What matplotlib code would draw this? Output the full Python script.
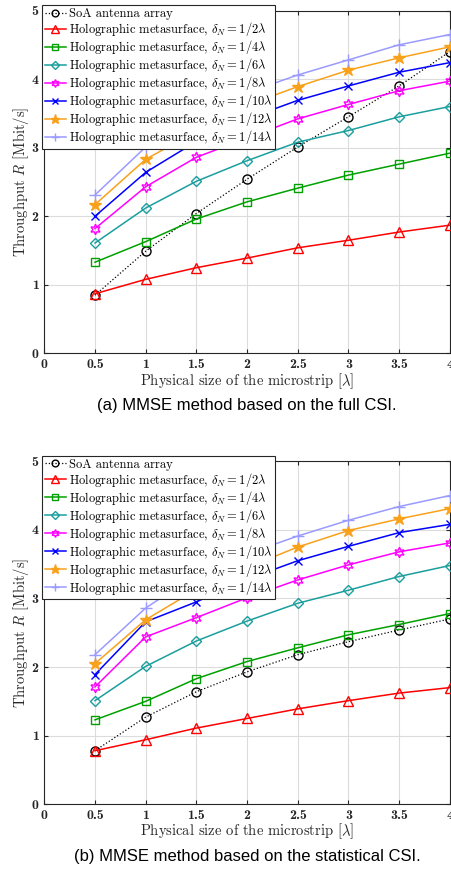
import matplotlib
matplotlib.use("Agg")
import matplotlib.pyplot as plt

plt.rcParams['mathtext.fontset'] = 'cm'
plt.rcParams['axes.unicode_minus'] = False

x = [0.5, 1, 1.5, 2, 2.5, 3, 3.5, 4]

labels = ['SoA antenna array',
          r'Holographic metasurface, $\delta_N=1/2\lambda$',
          r'Holographic metasurface, $\delta_N=1/4\lambda$',
          r'Holographic metasurface, $\delta_N=1/6\lambda$',
          r'Holographic metasurface, $\delta_N=1/8\lambda$',
          r'Holographic metasurface, $\delta_N=1/10\lambda$',
          r'Holographic metasurface, $\delta_N=1/12\lambda$',
          r'Holographic metasurface, $\delta_N=1/14\lambda$']

# (a) full CSI
soa_a  = [0.85, 1.49, 2.04, 2.54, 3.01, 3.45, 3.90, 4.40]
h2_a   = [0.87, 1.08, 1.25, 1.39, 1.54, 1.65, 1.77, 1.87]
h4_a   = [1.33, 1.63, 1.96, 2.21, 2.41, 2.60, 2.76, 2.92]
h6_a   = [1.61, 2.12, 2.51, 2.81, 3.08, 3.25, 3.45, 3.60]
h8_a   = [1.82, 2.43, 2.86, 3.14, 3.42, 3.63, 3.83, 3.97]
h10_a  = [2.00, 2.64, 3.09, 3.42, 3.69, 3.90, 4.10, 4.24]
h12_a  = [2.17, 2.83, 3.24, 3.62, 3.89, 4.13, 4.31, 4.47]
h14_a  = [2.31, 3.01, 3.45, 3.80, 4.06, 4.28, 4.50, 4.65]

# (b) statistical CSI
soa_b  = [0.78, 1.27, 1.64, 1.93, 2.18, 2.37, 2.54, 2.70]
h2_b   = [0.78, 0.94, 1.11, 1.25, 1.39, 1.51, 1.62, 1.70]
h4_b   = [1.23, 1.50, 1.83, 2.08, 2.28, 2.47, 2.62, 2.78]
h6_b   = [1.51, 2.01, 2.38, 2.67, 2.93, 3.12, 3.32, 3.48]
h8_b   = [1.71, 2.44, 2.72, 3.01, 3.27, 3.49, 3.68, 3.81]
h10_b  = [1.89, 2.66, 2.95, 3.28, 3.55, 3.76, 3.96, 4.08]
h12_b  = [2.05, 2.69, 3.13, 3.45, 3.75, 3.99, 4.16, 4.31]
h14_b  = [2.18, 2.86, 3.35, 3.65, 3.91, 4.14, 4.34, 4.50]

xticks = [0, 0.5, 1, 1.5, 2, 2.5, 3, 3.5, 4]
xticklabels = ['0', '0.5', '1', '1.5', '2', '2.5', '3', '3.5', '4']
yticks = [0, 1, 2, 3, 4, 5]
captions = ['(a) MMSE method based on the full CSI.',
            '(b) MMSE method based on the statistical CSI.']

colors = ['black', '#ff0000', '#00a000', '#1a9e9e', '#ff00ff', '#0000ff', '#f9a11b', '#9a9aff']
markers = ['o', '^', 's', 'D', (6, 1, 0), 'x', '*', '+']
styles = [':', '-', '-', '-', '-', '-', '-', '-']
msizes = [6.5, 7, 5.5, 5.5, 7.5, 5.5, 9, 8]

fig = plt.figure(figsize=(4.52, 8.77), dpi=100)
axes = [fig.add_axes([0.098, 0.597, 0.897, 0.391]),
        fig.add_axes([0.098, 0.083, 0.897, 0.391])]
datasets = [[soa_a, h2_a, h4_a, h6_a, h8_a, h10_a, h12_a, h14_a],
            [soa_b, h2_b, h4_b, h6_b, h8_b, h10_b, h12_b, h14_b]]

for ax, data, cap in zip(axes, datasets, captions):
    for i, y in enumerate(data):
        filled = markers[i] == '*'
        ax.plot(x, y, linestyle=styles[i], color=colors[i], marker=markers[i],
                markersize=msizes[i], linewidth=1.1 if i else 0.9,
                markerfacecolor=colors[i] if filled else 'none',
                markeredgewidth=1.0, label=labels[i], zorder=3)
    ax.set_xlim(0, 4)
    ax.set_ylim(0, 5)
    ax.set_xticks(xticks)
    ax.set_xticklabels(xticklabels)
    ax.set_yticks(yticks)
    for lab in ax.get_xticklabels() + ax.get_yticklabels():
        lab.set_fontfamily('cmb10')
        lab.set_fontsize(10)
        lab.set_color('#262626')
    ax.tick_params(direction='in', top=True, right=True, length=3, color='#262626', pad=4)
    ax.grid(True, color='#dcdcdc', linewidth=0.8)
    ax.set_axisbelow(True)
    for sp in ax.spines.values():
        sp.set_color('#262626')
        sp.set_linewidth(0.8)
    ax.set_xlabel(r'Physical size of the microstrip [$\lambda$]', fontfamily='cmr10',
                  fontsize=10.5, color='#262626', labelpad=0)
    ax.set_ylabel(r'Throughput $R$ [Mbit/s]', fontfamily='cmr10',
                  fontsize=10.5, color='#262626')
    ax.yaxis.set_label_coords(-0.033, 0.5)
    leg = ax.legend(loc='upper left', bbox_to_anchor=(-0.005, 1.015),
                    prop={'family': 'cmr10', 'size': 9}, frameon=True, fancybox=False,
                    edgecolor='#262626', framealpha=1, borderpad=0.2, labelspacing=0,
                    handlelength=1.7, handletextpad=0.2, borderaxespad=0, markerscale=0.75)
    leg.get_frame().set_linewidth(0.8)
    ax.text(0.5, -0.13, cap, transform=ax.transAxes, ha='center', va='top',
            fontfamily='Liberation Sans', fontsize=12)

fig.savefig('out.png', dpi=100)
